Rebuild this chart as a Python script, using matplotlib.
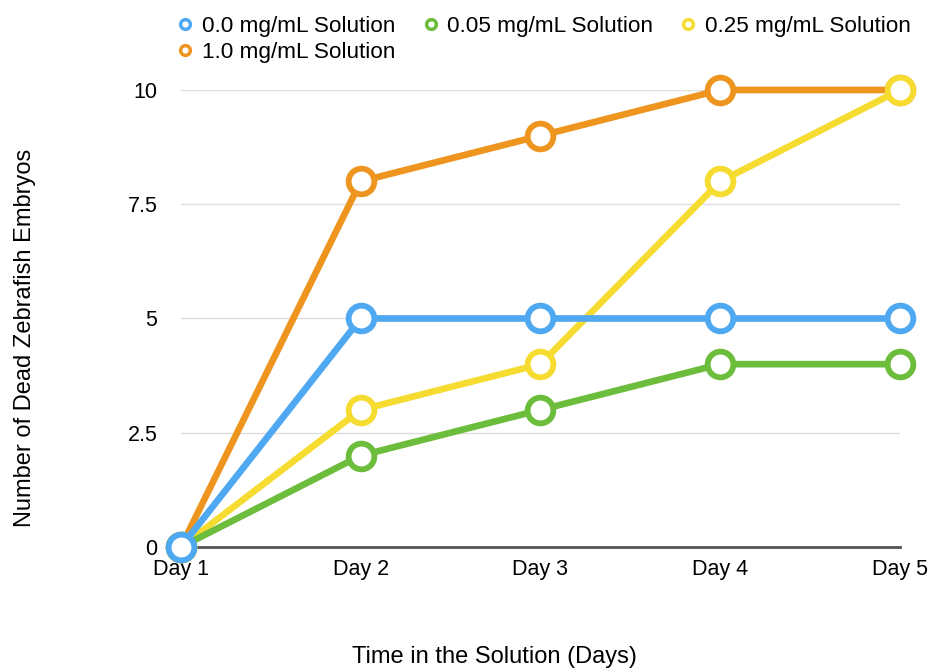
import matplotlib.pyplot as plt

plt.rcParams['font.family'] = ['Liberation Sans', 'DejaVu Sans']

days = ['Day 1', 'Day 2', 'Day 3', 'Day 4', 'Day 5']
yticks = [0, 2.5, 5, 7.5, 10]
ytick_labels = ['0', '2.5', '5', '7.5', '10']

dose_00 = [0, 5, 5, 5, 5]
dose_005 = [0, 2, 3, 4, 4]
dose_025 = [0, 3, 4, 8, 10]
dose_10 = [0, 8, 9, 10, 10]

series = [
    ('0.0 mg/mL Solution', dose_00, '#4fa8f2'),
    ('0.05 mg/mL Solution', dose_005, '#6cbd3c'),
    ('0.25 mg/mL Solution', dose_025, '#f6dc30'),
    ('1.0 mg/mL Solution', dose_10, '#ee9520'),
]
# draw order: later ones on top
z_order = {'1.0 mg/mL Solution': 3, '0.25 mg/mL Solution': 4,
           '0.05 mg/mL Solution': 5, '0.0 mg/mL Solution': 6}

fig = plt.figure(figsize=(9.3, 6.69), dpi=100)
ax = fig.add_axes([0.1946, 0.1824, 0.7731, 0.6831])

x = list(range(len(days)))
handles = {}
for label, vals, color in series:
    ax.plot(x, vals, color=color, lw=4.8, zorder=z_order[label],
            solid_capstyle='round', clip_on=False)
    ax.plot(x, vals, 'o', ms=18.5, mfc='white', mec=color, mew=4.2,
            zorder=z_order[label] + 0.5, clip_on=False)
    h, = ax.plot([], [], 'o', ms=7, mfc='white', mec=color, mew=2.5, label=label)
    handles[label] = h

ax.set_xlim(0, 4)
ax.set_ylim(0, 10)
ax.set_xticks(x)
ax.set_xticklabels(days, fontsize=15.5)
ax.set_yticks(yticks)
ax.set_yticklabels(ytick_labels, fontsize=15.5)
ax.tick_params(length=0)
ax.tick_params(axis='x', pad=9)
ax.tick_params(axis='y', pad=17)

for t in yticks[1:]:
    ax.axhline(t, color='#dddddd', lw=1, zorder=1)

for s in ['top', 'right', 'left']:
    ax.spines[s].set_visible(False)
ax.spines['bottom'].set_color('#555555')
ax.spines['bottom'].set_linewidth(2)

fig.text(0.027, 0.495, 'Number of Dead Zebrafish Embryos', rotation=90,
         ha='center', va='center', fontsize=17)
fig.text(0.532, 0.018, 'Time in the Solution (Days)', ha='center',
         va='center', fontsize=17)

# legend fills column-wise, so order handles to read row by row
legend_order = ['0.0 mg/mL Solution', '1.0 mg/mL Solution',
                '0.05 mg/mL Solution', '0.25 mg/mL Solution']
fig.legend(handles=[handles[k] for k in legend_order], loc='upper left',
           bbox_to_anchor=(0.168, 1.006), ncol=3, frameon=False, fontsize=16.2,
           handlelength=0.8, handletextpad=0.35, columnspacing=1.15,
           labelspacing=0.22)

fig.savefig('out.png', dpi=100)
